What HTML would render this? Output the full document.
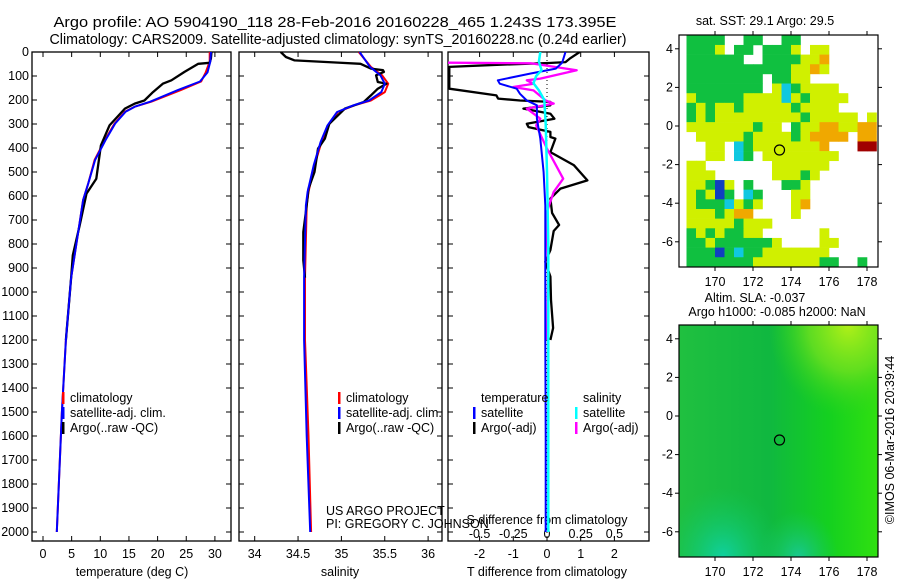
<!DOCTYPE html>
<html><head><meta charset="utf-8"><style>
html,body{margin:0;padding:0;background:#fff;}
svg{display:block;font-family:"Liberation Sans",sans-serif;}
</style></head><body>
<svg id="fig" width="900" height="580" viewBox="0 0 900 580" xmlns="http://www.w3.org/2000/svg">
<defs>
<clipPath id="c1"><rect x="32" y="52" width="199" height="489"/></clipPath>
<clipPath id="c2"><rect x="239" y="52" width="203" height="489"/></clipPath>
<clipPath id="c3"><rect x="448" y="52" width="201" height="489"/></clipPath>
<radialGradient id="gTR" cx="0.85" cy="0" r="0.4"><stop offset="0" stop-color="#b0f018"/><stop offset="0.5" stop-color="#70e020" stop-opacity="0.8"/><stop offset="1" stop-color="#30d020" stop-opacity="0"/></radialGradient>
<radialGradient id="gBL" cx="0.22" cy="1" r="0.3"><stop offset="0" stop-color="#10d0a0"/><stop offset="1" stop-color="#10c860" stop-opacity="0"/></radialGradient>
<radialGradient id="gBM" cx="0.6" cy="1" r="0.2"><stop offset="0" stop-color="#18c890"/><stop offset="1" stop-color="#18c860" stop-opacity="0"/></radialGradient>
<linearGradient id="gMid" x1="0" x2="1" y1="0" y2="0"><stop offset="0" stop-color="#20c040"/><stop offset="0.45" stop-color="#10b840"/><stop offset="0.75" stop-color="#14d020"/><stop offset="1" stop-color="#30e010"/></linearGradient>
</defs>
<text x="335" y="27" text-anchor="middle" font-size="15" textLength="563" lengthAdjust="spacingAndGlyphs">Argo profile: AO 5904190_118 28-Feb-2016 20160228_465 1.243S 173.395E</text>
<text x="338" y="44" text-anchor="middle" font-size="15" textLength="577" lengthAdjust="spacingAndGlyphs">Climatology: CARS2009. Satellite-adjusted climatology: synTS_20160228.nc (0.24d earlier)</text>
<g id="axes"></g>
<g id="maps"></g>
</svg>
<script>
// ---- data ----
var depthTicks=[0,100,200,300,400,500,600,700,800,900,1000,1100,1200,1300,1400,1500,1600,1700,1800,1900,2000];
var tTicks=[0,5,10,15,20,25,30];
var sTicks=[34,34.5,35,35.5,36];
var tdTicks=[-2,-1,0,1,2];
var sdTicks=[-0.5,-0.25,0,0.25,0.5];
var sdLabels=["-0.5","-0.25","0","0.25","0.5"];
// temperature profiles
var tClimD=[0,40,85,123,158,207,228,249,298,367,450,547,617,756,942,1200,1500,2000];
var tClimV=[29.1,29.1,28.4,27.6,24.1,18.9,16,14.3,12.5,10.8,9,7.9,7,6.1,4.9,4.0,3.3,2.4];
var tSatD=[0,40,85,123,158,207,228,249,298,367,450,547,617,756,942,1200,1500,2000];
var tSatV=[29.3,29.2,28.7,27.4,23.6,18.7,16,14.4,12.6,10.9,9.1,7.9,7,6.1,4.9,4.0,3.3,2.4];
var tArgoD=[0,28,45,49,83,118,132,167,202,215,236,306,389,528,590,722,847,942,1200];
var tArgoV=[29.4,29.3,29.1,27.1,24.7,22.4,20.9,19.2,17.7,16,14.3,11.6,10.1,9.3,7.6,6.4,5.2,4.9,4.0];
// salinity profiles
var sClimD=[0,62,97,132,167,202,222,250,306,375,472,583,639,940,1200,1300,1600,2000];
var sClimV=[35.2,35.34,35.47,35.54,35.5,35.34,35.15,34.96,34.85,34.77,34.69,34.62,34.6,34.58,34.58,34.59,34.62,34.65];
var sSatD=[0,62,97,132,167,202,222,250,306,375,472,583,639,940,1200,1600,2000];
var sSatV=[35.21,35.33,35.45,35.5,35.46,35.32,35.14,34.95,34.84,34.76,34.68,34.61,34.59,34.57,34.57,34.6,34.64];
var sArgoD=[0,21,35,44,49,69,76,83,97,125,132,153,181,208,236,264,299,361,403,500,570,639,750,868,940];
var sArgoV=[34.3,34.36,34.46,34.96,35.22,35.34,35.48,35.49,35.4,35.42,35.52,35.42,35.34,35.26,35.04,34.96,34.86,34.81,34.73,34.69,34.62,34.6,34.56,34.56,34.58];
// difference profiles (T units; S diffs in psu)
var dtSatD=[0,44,69,90,118,132,153,174,202,222,278,361,500,639,900,1200,1600,2000];
var dtSatV=[0.55,0.45,0.26,-0.5,-1.46,-1.4,-0.9,-0.8,-0.6,-0.3,-0.3,-0.2,-0.1,-0.05,-0.05,-0.05,-0.04,-0.04];
var dtArgoD=[0,28,42,46,53,62,153,181,194,202,208,222,236,257,278,299,313,333,354,361,417,472,535,569,611,671,721,746,825,874,936,1033,1150,1200];
var dtArgoV=[0.97,0.67,0.55,0.06,-1.4,-2.9,-2.9,-1.5,-1.45,-0.8,0.1,0.1,-0.7,0.1,0.22,-0.6,-0.55,0.1,0.1,0.25,0.1,0.8,1.2,0.4,0.1,0.15,0.36,0.2,0.1,-0.05,0.1,0.12,0.18,0.1];
var dsSatD=[0,40,76,100,130,160,200,300,500,800,1200,1600,2000];
var dsSatV=[-0.05,-0.06,-0.04,-0.08,-0.1,-0.06,-0.02,-0.01,0.0,0.01,0.01,0.01,0.01];
var dsArgoD=[40,44,47,76,111,118,132,146,160,202,215,236,278,306,403,528,583,680,900,1200];
var dsArgoV=[-1.45,-0.85,-0.12,0.22,-0.05,-0.15,-0.1,-0.25,-0.1,-0.01,0.05,-0.15,-0.05,-0.08,0,0.12,0.05,-0.01,0.01,0];
// SST map (0.5-degree cells, lon 168.5..178.5, lat 4.7 down to -7.3)
var sstRows=[
"GGGG00GG00GG00000000",
"GGGY0GG0GGGY0YY00000",
"GGGGGG00GGGGYYO00000",
"GGGGGGGGGGGYYOY00000",
"GGGGGGGG0GGYY0000000",
"GGGGGGGG0YCGYYYY0000",
"YGGGGGYYYYCYGYYYY000",
"GYGYYGYYYYYGYYYY0000",
"GYGYYYYYYYYYGYYYYY0Y",
"YYYYYYYGYY0GYYOOYYOO",
"0YYYYYGYYYYGYOOOO0OO",
"00YY0CGYYYYYYYO000RR",
"00YY0CG0YYYYYYYY0000",
"YY0000000YYYYYY00000",
"YYY000000YYYGY000000",
"YYGBY0G000GGY0000000",
"YGYBG0CG000YY0000000",
"YGGGCYGY000YO0000000",
"YYYGYOO0000Y00000000",
"YYYYYGYYY00000000000",
"GYGYGGYY000000Y00000",
"GGYGGGGGGY0000YY0000",
"GGGBGCGGYYYYYYY00000",
"GGGGGGGYYYYYYYGG00G0"];
var sstColors={G:"#10c040",Y:"#d0f000",O:"#f0a800",R:"#a00000",C:"#10c8e0",B:"#1040c0"};
var lonTicks=[170,172,174,176,178];
var latTicks=[4,2,0,-2,-4,-6];
var floatLon=173.395, floatLat=-1.243;

// ---- helpers ----
var NS="http://www.w3.org/2000/svg";
var gA=document.getElementById('axes'), gM=document.getElementById('maps');
function mk(tag,at,parent){var e=document.createElementNS(NS,tag);for(var k in at)e.setAttribute(k,at[k]);parent.appendChild(e);return e;}
var top0=52, bot=541;
function yD(d){return top0+d*0.24;}
function xT(t){return 43+t*5.73;}
function xS(s){return 254.7+(s-34)*86.7;}
function xDT(v){return 547+v*33.7;}
function xDS(v){return xDT(v*4);}

var panels=[[32,231],[239,442],[448,649]];
panels.forEach(function(p,i){
  var r=mk('rect',{x:p[0],y:top0,width:p[1]-p[0],height:bot-top0,fill:'none',stroke:'#000','stroke-width':1.3},gA);
  
  
  depthTicks.forEach(function(d){
    mk('line',{x1:p[0],x2:p[0]+5,y1:yD(d),y2:yD(d),stroke:'#000'},gA);
    mk('line',{x1:p[1],x2:p[1]-5,y1:yD(d),y2:yD(d),stroke:'#000'},gA);
  });
});
depthTicks.forEach(function(d){
  var t=mk('text',{x:29,y:yD(d)+4,'text-anchor':'end','font-size':12.5},gA);t.textContent=d;
  
  
});
function xticks(vals,labels,fx,p,ly){
  vals.forEach(function(v,i){
    var x=fx(v);
    mk('line',{x1:x,x2:x,y1:top0,y2:top0+5,stroke:'#000'},gA);
    mk('line',{x1:x,x2:x,y1:bot,y2:bot-5,stroke:'#000'},gA);
    var t=mk('text',{x:x,y:ly,'text-anchor':'middle','font-size':12.5},gA);t.textContent=labels[i];
    
    
  });
}
xticks(tTicks,tTicks,xT,panels[0],558);
xticks(sTicks,sTicks,xS,panels[1],558);
xticks(tdTicks,tdTicks,xDT,panels[2],558);
sdTicks.forEach(function(v,i){
  var t=mk('text',{x:xDS(v),y:538,'text-anchor':'middle','font-size':12.5},gA);t.textContent=sdLabels[i];
  
  
});
function label(x,y,txt,name,size,anchor){var t=mk('text',{x:x,y:y,'text-anchor':anchor||'middle','font-size':size||12.5},gA);t.textContent=txt;
  
  return t;}
label(132,576,'temperature (deg C)','x-axis-title-temperature');
label(340,576,'salinity','x-axis-title-salinity');
label(547,576,'T difference from climatology','x-axis-title-t-diff');
label(547,524,'S difference from climatology','x-axis-title-s-diff');
label(326,515,'US ARGO PROJECT','project-label',12.5,'start');
label(326,528,'PI: GREGORY C. JOHNSON','pi-label',12.5,'start');

function line(D,V,fx,color,w,clip,name){
  var pts=D.map(function(d,i){return fx(V[i]).toFixed(1)+','+yD(d).toFixed(1);}).join(' ');
  var e=mk('polyline',{points:pts,fill:'none',stroke:color,'stroke-width':w,'clip-path':'url(#'+clip+')','stroke-linejoin':'round'},gA);
  
  
}
line(tClimD,tClimV,xT,'#f00',2,'c1','temp-climatology-line');
line(tArgoD,tArgoV,xT,'#000',2.3,'c1','temp-argo-line');
line(tSatD,tSatV,xT,'#00f',2,'c1','temp-satellite-line');
line(sClimD,sClimV,xS,'#f00',2,'c2','sal-climatology-line');
line(sArgoD,sArgoV,xS,'#000',2.3,'c2','sal-argo-line');
line(sSatD,sSatV,xS,'#00f',2,'c2','sal-satellite-line');
mk('line',{x1:xDT(0),x2:xDT(0),y1:top0,y2:bot,stroke:'#000','stroke-dasharray':'1,3'},gA);
line(dtArgoD,dtArgoV,xDT,'#000',2.3,'c3','tdiff-argo-line');
line(dsArgoD,dsArgoV,xDS,'#f0f',2.3,'c3','sdiff-argo-line');
line(dtSatD,dtSatV,xDT,'#00f',2,'c3','tdiff-satellite-line');
line(dsSatD,dsSatV,xDS,'#0ff',2.5,'c3','sdiff-satellite-line');

function legend(x,y,items,name){
  items.forEach(function(it,i){
    if(it[0]){var m=mk('rect',{x:x,y:y+i*15-10,width:2.5,height:12,fill:it[0]},gA);}
    var t=mk('text',{x:x+8,y:y+i*15,'font-size':12.5},gA);t.textContent=it[1];
    
    
  });
}
legend(62,402,[['#f00','climatology'],['#00f','satellite-adj. clim.'],['#000','Argo(..raw -QC)']],'temp-legend');
legend(338,402,[['#f00','climatology'],['#00f','satellite-adj. clim.'],['#000','Argo(..raw -QC)']],'sal-legend');
legend(473,402,[[null,'temperature'],['#00f','satellite'],['#000','Argo(-adj)']],'tdiff-legend');
legend(575,402,[[null,'salinity'],['#0ff','satellite'],['#f0f','Argo(-adj)']],'sdiff-legend');

// ---- maps ----
function mapAxes(t0,b0,lat0y,name){
  var L=679,R=878;
  function mx(lon){return 715+(lon-170)*19;}
  function my(lat){return lat0y-lat*19.3;}
  return {mx:mx,my:my,L:L,R:R,frame:function(){
    var f=mk('rect',{x:L,y:t0,width:R-L,height:b0-t0,fill:'none',stroke:'#000','stroke-width':1.2},gM);
    
    
    lonTicks.forEach(function(v){var x=mx(v);
      mk('line',{x1:x,x2:x,y1:t0,y2:t0-4,stroke:'#000'},gM);mk('line',{x1:x,x2:x,y1:b0,y2:b0+4,stroke:'#000'},gM);
      var t=mk('text',{x:x,y:b0+19,'text-anchor':'middle','font-size':12.5},gM);t.textContent=v;
      
      });
    latTicks.forEach(function(v){var y=my(v);
      mk('line',{x1:L,x2:L-4,y1:y,y2:y,stroke:'#000'},gM);mk('line',{x1:R,x2:R+4,y1:y,y2:y,stroke:'#000'},gM);
      var t=mk('text',{x:673,y:y+4,'text-anchor':'end','font-size':12.5},gM);t.textContent=v;
      
      });
    var c=mk('circle',{cx:mx(floatLon),cy:my(floatLat),r:5,fill:'none',stroke:'#000','stroke-width':1.2},gM);
    
    
  }};
}
var m1=mapAxes(35,267,126,'sst-map');
var gCells=mk('g',{},gM);


sstRows.forEach(function(row,r){
  for(var c=0;c<row.length;c++){
    var k=row[c]; if(k==='0')continue;
    var lon=168.5+c*0.5, lat=4.7-r*0.5;
    var x0=Math.max(m1.mx(lon),679), x1=Math.min(m1.mx(lon+0.5),878);
    var y0=m1.my(lat), y1=Math.min(m1.my(lat-0.5),267);
    var cell=mk('rect',{x:x0,y:y0,width:x1-x0+0.3,height:y1-y0+0.3,fill:sstColors[k]},gCells);
    
    
  }
});
m1.frame();
var t1=mk('text',{x:765,y:25,'text-anchor':'middle','font-size':12.5},gM);t1.textContent='sat. SST: 29.1 Argo: 29.5';



var m2=mapAxes(325,557,416,'sla-map');
var bg=mk('rect',{x:679,y:325,width:199,height:232,fill:'url(#gMid)'},gM);


mk('rect',{x:679,y:325,width:199,height:232,fill:'url(#gTR)'},gM);
mk('rect',{x:679,y:325,width:199,height:232,fill:'url(#gBL)'},gM);
mk('rect',{x:679,y:325,width:199,height:232,fill:'url(#gBM)'},gM);
m2.frame();
var t2=mk('text',{x:755,y:302,'text-anchor':'middle','font-size':12.5},gM);t2.textContent='Altim. SLA: -0.037';


var t3=mk('text',{x:777,y:316,'text-anchor':'middle','font-size':12.5},gM);t3.textContent='Argo h1000: -0.085 h2000: NaN';


var t4=mk('text',{x:0,y:0,'text-anchor':'middle','font-size':12.5,transform:'translate(894,440) rotate(-90)'},gM);t4.textContent='\u00A9IMOS 06-Mar-2016 20:39:44';


</script>
</body></html>
